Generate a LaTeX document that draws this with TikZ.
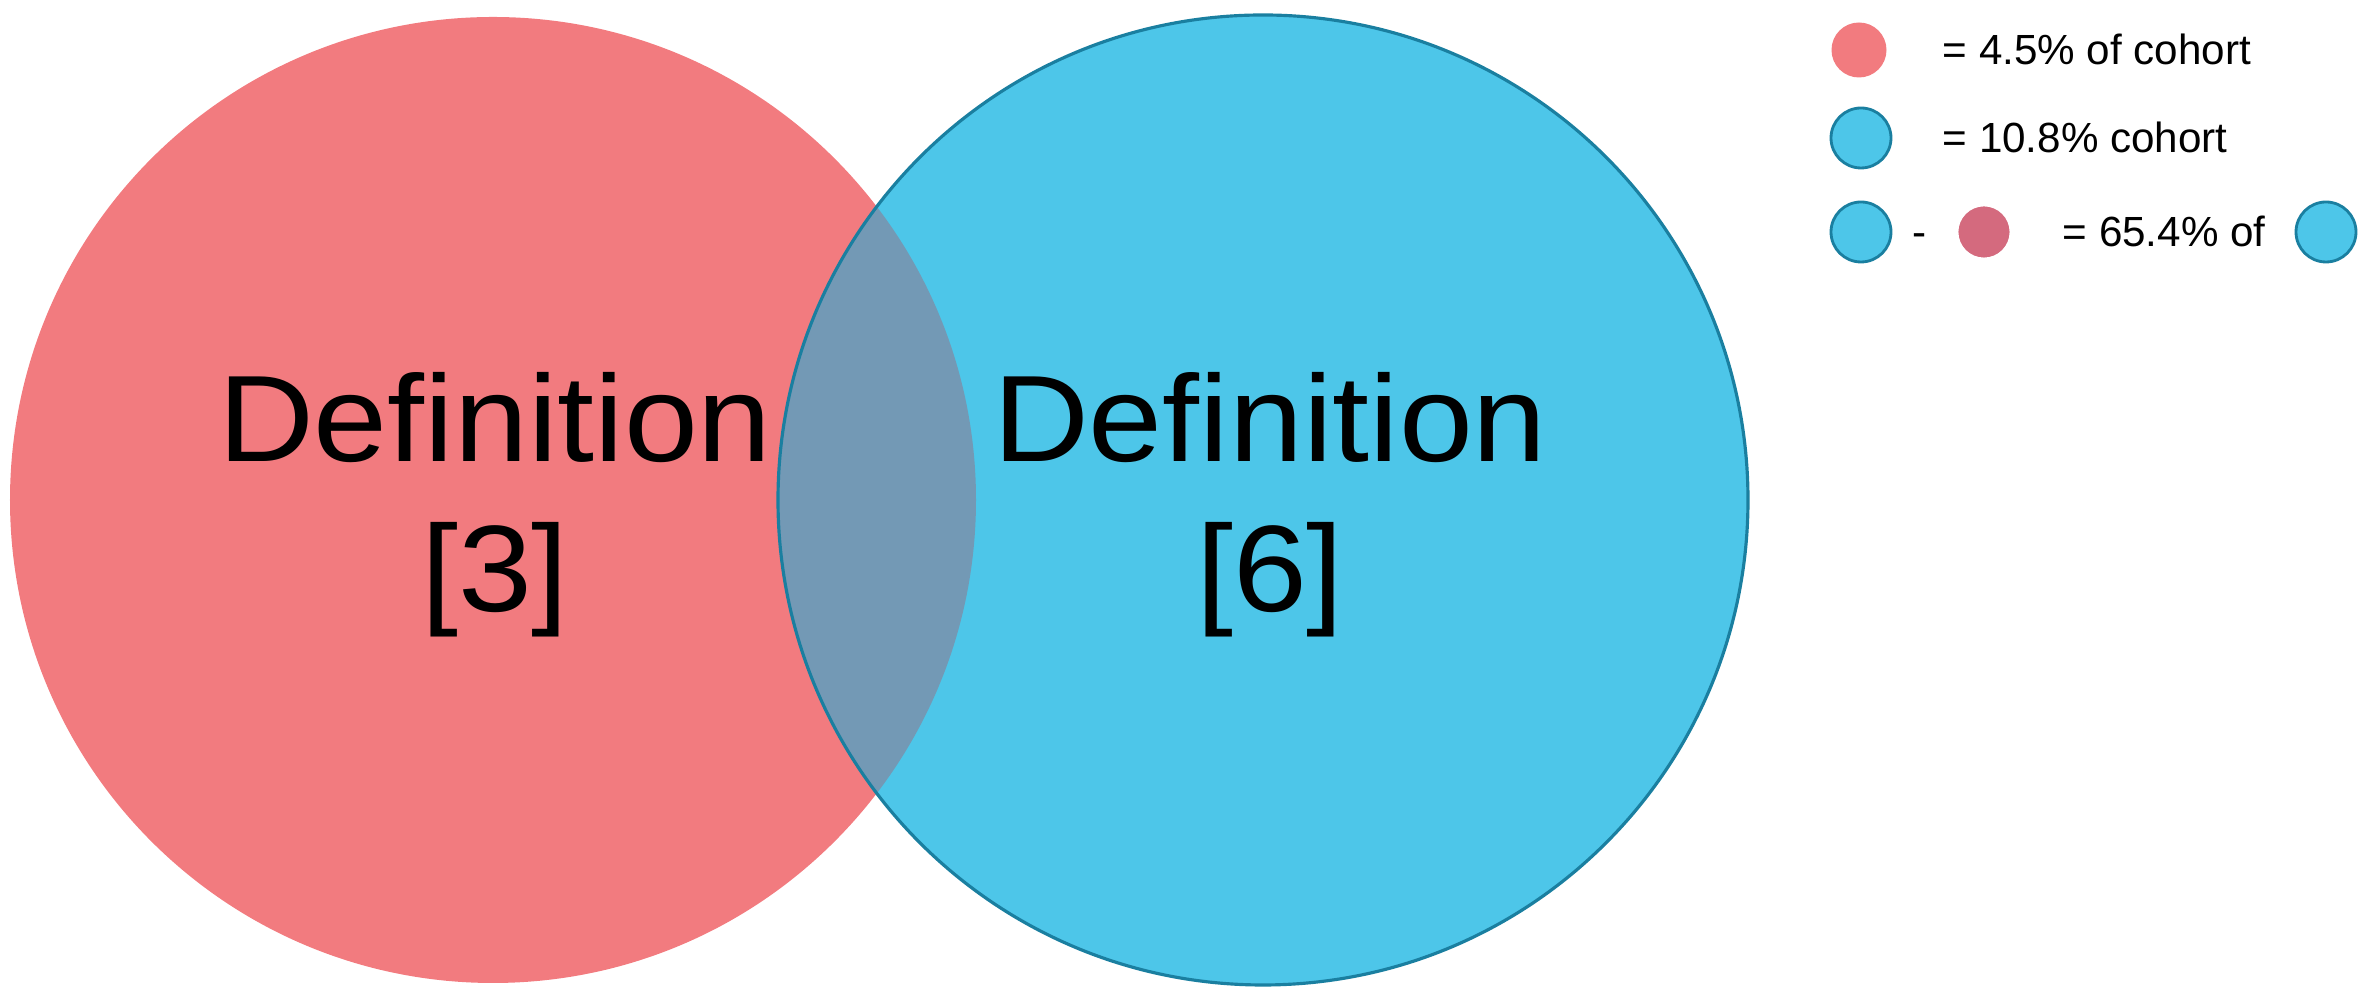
\documentclass[tikz,border=0pt]{standalone}
\usepackage{fontspec}
\setmainfont{Liberation Sans}
\definecolor{pinkc}{HTML}{F27B7F}
\definecolor{bluec}{HTML}{4DC6E9}
\definecolor{bluedge}{HTML}{1A7FA0}
\definecolor{lensc}{HTML}{7399B5}
\definecolor{darkpink}{HTML}{D46A7E}
\tikzset{
  big/.style={font=\fontsize{35}{42}\selectfont, inner sep=0pt, anchor=base},
  leg/.style={font=\fontsize{12}{14}\selectfont, anchor=base west, inner sep=0pt},
  bdot/.style={circle, minimum size=0.6cm, inner sep=0pt, fill=bluec, draw=bluedge, line width=0.8pt},
}
\begin{document}
\begin{tikzpicture}
\useasboundingbox (0,0) rectangle (23.77,10.05);
\fill[pinkc] (4.93,5.05) circle [radius=4.83];
\fill[bluec] (12.63,5.05) circle [radius=4.85];
\begin{scope}
\clip (4.93,5.05) circle [radius=4.83];
\fill[lensc] (12.63,5.05) circle [radius=4.85];
\end{scope}
\draw[bluedge, line width=0.9pt] (12.63,5.05) circle [radius=4.85];
\node[big] (d3a) at (4.95,5.43) {\scalebox{1.08}[1]{Definition}};
\node[big] (d3b) at (4.95,3.93) {\scalebox{1.08}[1]{[3]}};
\node[big] (d6a) at (12.7,5.43) {\scalebox{1.08}[1]{Definition}};
\node[big] (d6b) at (12.7,3.93) {\scalebox{1.08}[1]{[6]}};
% legend
\node[circle, minimum size=0.55cm, inner sep=0pt, fill=pinkc] (l1) at (18.59,9.55) {};
\node[leg] (t1) at (19.42,9.40) {= 4.5\% of cohort};
\node[bdot] (l2) at (18.61,8.67) {};
\node[leg] (t2) at (19.42,8.52) {= 10.8\% cohort};
\node[bdot] (l3) at (18.61,7.73) {};
\node[leg] (m) at (19.12,7.58) {-};
\node[circle, minimum size=0.54cm, inner sep=0pt, fill=darkpink, draw=white, line width=0.8pt] (l4) at (19.84,7.73) {};
\node[leg] (t3) at (20.62,7.58) {= 65.4\% of};
\node[bdot] (l5) at (23.26,7.73) {};
\end{tikzpicture}
\end{document}
